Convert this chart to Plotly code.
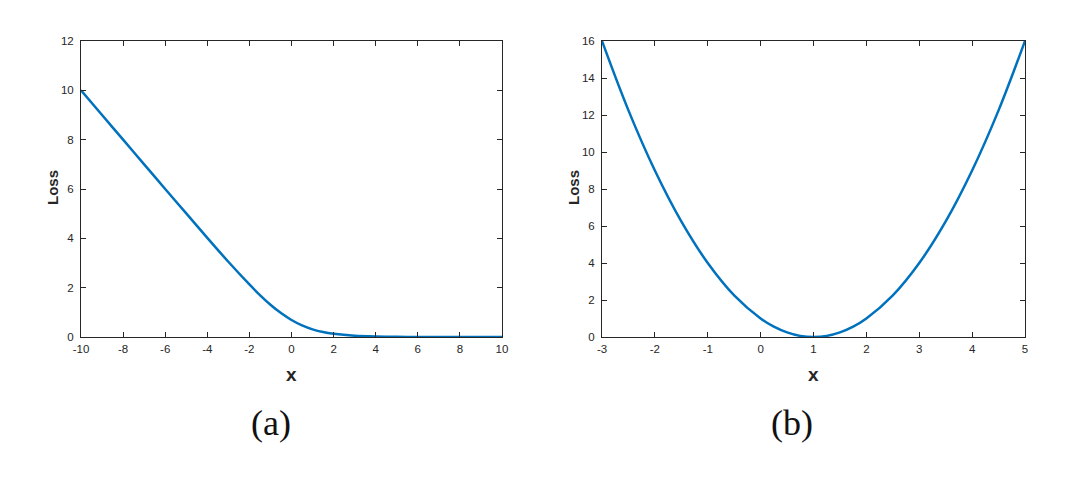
import plotly.graph_objects as go

# Left panel (a): loss values
left_x = [-10, -9, -8, -7, -6, -5, -4, -3, -2, -1.5, -1, -0.5, 0, 0.5, 1, 1.5, 2, 3, 4, 5, 6, 7, 8, 9, 10]
left_y = [10.0, 9.0, 8.0, 7.0, 6.0, 5.01, 4.02, 3.05, 2.13, 1.70, 1.31, 0.97, 0.69, 0.47, 0.31, 0.20,
          0.13, 0.05, 0.02, 0.01, 0.0, 0.0, 0.0, 0.0, 0.0]

# Right panel (b)
right_x = [-3, -2.5, -2, -1.5, -1, -0.5, 0, 0.25, 0.5, 0.75, 1, 1.25, 1.5, 1.75, 2, 2.5, 3, 3.5, 4, 4.5, 5]
right_y = [16, 12.25, 9, 6.25, 4, 2.25, 1, 0.56, 0.25, 0.06, 0, 0.06, 0.25, 0.56, 1, 2.25, 4, 6.25, 9, 12.25, 16]

left_xticks = [-10, -8, -6, -4, -2, 0, 2, 4, 6, 8, 10]
left_xlabels = ["-10", "-8", "-6", "-4", "-2", "0", "2", "4", "6", "8", "10"]
left_yticks = [0, 2, 4, 6, 8, 10, 12]
left_ylabels = ["0", "2", "4", "6", "8", "10", "12"]
right_xticks = [-3, -2, -1, 0, 1, 2, 3, 4, 5]
right_xlabels = ["-3", "-2", "-1", "0", "1", "2", "3", "4", "5"]
right_yticks = [0, 2, 4, 6, 8, 10, 12, 14, 16]
right_ylabels = ["0", "2", "4", "6", "8", "10", "12", "14", "16"]

panel_labels = ["(a)", "(b)"]
x_label = "x"
y_label = "Loss"

W, H = 1080, 482
OFF = 8  # page body margin
LINE = "#0072BD"
AX = "#262626"

def px(x):
    return (x - OFF) / W

def py(y):
    return 1 - (y - OFF) / H

fig = go.Figure()
fig.add_trace(go.Scatter(x=left_x, y=left_y, mode="lines", xaxis="x", yaxis="y",
                         line=dict(color=LINE, width=2.5, shape="spline", smoothing=0.6),
                         showlegend=False))
fig.add_trace(go.Scatter(x=right_x, y=right_y, mode="lines", xaxis="x2", yaxis="y2",
                         line=dict(color=LINE, width=2.5, shape="spline", smoothing=1.0),
                         showlegend=False))

ydom = [py(337), py(41)]
ldom = [px(81), px(502)]
rdom = [px(602), px(1025)]

def ax(dom, rng, ticks, labels, anchor, standoff):
    return dict(domain=dom, range=rng, tickvals=ticks, ticktext=labels, ticks="inside", ticklen=5,
                tickcolor=AX, tickwidth=1, showline=True, linecolor=AX, linewidth=1,
                mirror="ticks", showgrid=False, zeroline=False, anchor=anchor, automargin=False,
                ticklabelstandoff=standoff,
                tickfont=dict(family="Liberation Sans, Arial", size=11.5, color=AX))

fig.update_layout(
    template="none",
    width=W, height=H,
    margin=dict(l=0, r=0, t=0, b=0),
    paper_bgcolor="white", plot_bgcolor="white",
    xaxis=ax(ldom, [-10, 10], left_xticks, left_xlabels, "y", 1),
    yaxis=ax(ydom, [0, 12], left_yticks, left_ylabels, "x", 4),
    xaxis2=ax(rdom, [-3, 5], right_xticks, right_xlabels, "y2", 1),
    yaxis2=ax(ydom, [0, 16], right_yticks, right_ylabels, "x2", 4),
)

anns = []
for xl, pl, lab in [(291, 271, panel_labels[0]), (813, 792, panel_labels[1])]:
    anns.append(dict(x=px(xl), y=py(374), xref="paper", yref="paper", text="<b>" + x_label + "</b>",
                     xanchor="center", yanchor="middle", showarrow=False,
                     font=dict(family="Liberation Sans, Arial", size=19, color=AX)))
    anns.append(dict(x=px(pl), y=py(423), xref="paper", yref="paper", text=lab,
                     xanchor="center", yanchor="middle", showarrow=False,
                     font=dict(family="Liberation Serif, serif", size=36, color="#111111")))
for lx in [52, 573]:
    anns.append(dict(x=px(lx), y=py(188), xref="paper", yref="paper", text="<b>" + y_label + "</b>",
                     textangle=-90, xanchor="center", yanchor="middle", showarrow=False,
                     font=dict(family="Liberation Sans, Arial", size=15, color=AX)))
fig.update_layout(annotations=anns)

fig.write_html("out.html")
